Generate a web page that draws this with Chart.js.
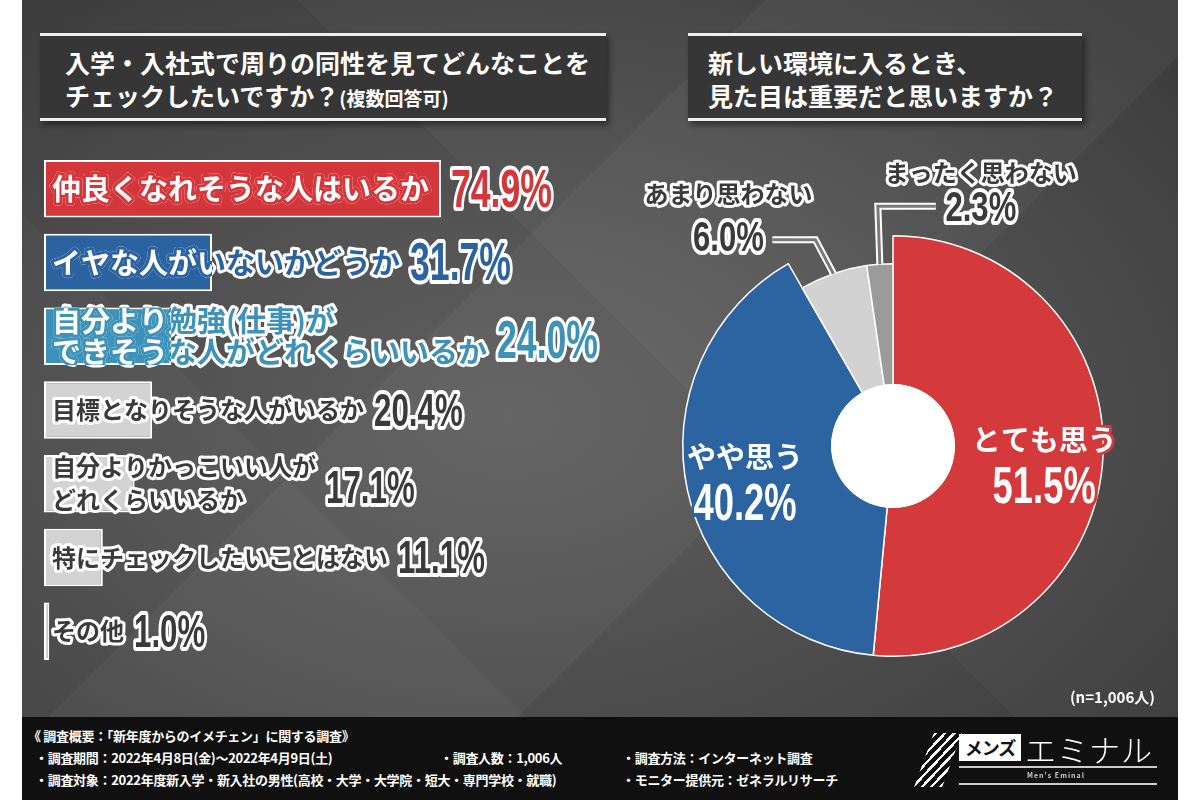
<!DOCTYPE html>
<html lang="ja">
<head>
<meta charset="utf-8">
<title>新年度からのイメチェンに関する調査</title>
<script src="https://cdn.jsdelivr.net/npm/chart.js@4.4.1/dist/chart.umd.min.js"></script>
<style>
  html, body { margin: 0; padding: 0; background: #fff; }
  body { width: 1200px; height: 800px; position: relative; overflow: hidden; font-family: "Noto Sans CJK JP", "Noto Sans", sans-serif; }
  #panel {
    position: absolute; left: 22px; top: 0; width: 1156px; height: 800px; overflow: hidden;
    background:
      linear-gradient(135deg, transparent 0 38%, rgba(255,255,255,0.035) 38% 62%, transparent 62%),
      linear-gradient(45deg, transparent 0 30%, rgba(0,0,0,0.06) 30% 55%, transparent 55%),
      radial-gradient(ellipse 75% 70% at 42% 52%, #666 0%, #515151 55%, #3d3d3d 100%);
  }
  .title {
    position: absolute; top: 33px; height: 88px; box-sizing: border-box;
    background: #363636; border-top: 3px solid #eee; border-bottom: 3px solid #eee;
    box-shadow: 3px 4px 6px rgba(0,0,0,0.45);
    color: #fff; font-weight: 700; font-size: 25px; line-height: 33px;
    padding: 10px 0 0 25px; white-space: nowrap;
  }
  .title small { font-size: 19px; }
  #t1 { left: 40px; width: 566px; }
  #t2 { left: 688px; width: 394px; padding-left: 20px; }
  canvas { position: absolute; }
  #bars { left: 22px; top: 140px; }
  #pie { left: 620px; top: 130px; }
  #nlabel { position: absolute; right: 45px; top: 686px; color: #fff; font-size: 15px; font-weight: 700; }
  #footer { position: absolute; left: 22px; top: 717px; width: 1156px; height: 83px; background: #101010; color: #fff; font-weight: 700; font-size: 13px; }
  #footer div { position: absolute; white-space: nowrap; letter-spacing: -0.3px; }
  .logo-stripes { position: absolute; left: 902px; top: 16px; width: 28px; height: 54px;
    background: repeating-linear-gradient(-60deg, #fff 0 3px, transparent 3px 8px); transform: skewX(-20deg); }
  .logo-box { position: absolute; left: 937px; top: 17px; width: 62px; height: 27px; background: #fff; color: #111; font-size: 18px; line-height: 27px; text-align: center; font-weight: 700; letter-spacing: -1px; white-space: nowrap; }
  .logo-name { position: absolute; left: 1003px; top: 9px; font-size: 31px; font-weight: 300; color: #fff; letter-spacing: 1px; }
  .logo-line { position: absolute; left: 937px; width: 198px; height: 2px; background: #ccc; }
  .logo-sub { position: absolute; left: 1005px; top: 53px; font-size: 7px; color: #ccc; letter-spacing: 1px; }
</style>
</head>
<body>
<div id="panel"></div>
<div class="title" id="t1">入学・入社式で周りの同性を見てどんなことを<br>チェックしたいですか？<small>(複数回答可)</small></div>
<div class="title" id="t2">新しい環境に入るとき、<br>見た目は重要だと思いますか？</div>
<canvas id="bars" width="640" height="545"></canvas>
<canvas id="pie" width="560" height="570"></canvas>
<div id="nlabel"></div>
<div id="footer">
  <div style="left:6px; top:9px;">《 調査概要：「新年度からのイメチェン」に関する調査》</div>
  <div style="left:13px; top:31px;">・調査期間：2022年4月8日(金)～2022年4月9日(土)</div>
  <div style="left:418px; top:31px;">・調査人数：1,006人</div>
  <div style="left:600px; top:31px;">・調査方法：インターネット調査</div>
  <div style="left:13px; top:53px;">・調査対象：2022年度新入学・新入社の男性(高校・大学・大学院・短大・専門学校・就職)</div>
  <div style="left:600px; top:53px;">・モニター提供元：ゼネラルリサーチ</div>
  <span class="logo-stripes"></span>
  <span class="logo-box">メンズ</span>
  <span class="logo-name">エミナル</span>
  <span class="logo-line" style="top:49px;"></span>
  <span class="logo-line" style="top:66px;"></span>
  <span class="logo-sub">Men's Eminal</span>
</div>

<script>
// Q1: checked points (multiple answers)
const categories = [
  '仲良くなれそうな人はいるか',
  'イヤな人がいないかどうか',
  ['自分より勉強(仕事)が', 'できそうな人がどれくらいいるか'],
  '目標となりそうな人がいるか',
  ['自分よりかっこいい人が', 'どれくらいいるか'],
  '特にチェックしたいことはない',
  'その他'
];
const checkValues = [74.9, 31.7, 24.0, 20.4, 17.1, 11.1, 1.0];

// Q2: is appearance important
const pieLabels = ['とても思う', 'やや思う', 'あまり思わない', 'まったく思わない'];
const pieValues = [51.5, 40.2, 6.0, 2.3];

const sampleSize = '(n=1,006人)';

const barColors = ['#d4373b', '#2b63a1', '#3d92b9', '#d3d3d3', '#d3d3d3', '#d3d3d3', '#d3d3d3'];
const barTextColors = ['#d4373b', '#2b63a1', '#3d92b9', '#3a3a3a', '#3a3a3a', '#3a3a3a', '#3a3a3a'];
const pieColors = ['#d4393b', '#2b64a1', '#d2d2d2', '#9b9b9b'];

const JP = '"Noto Sans CJK JP", "Noto Sans", sans-serif';
const NUM = '"Liberation Sans Narrow", "Liberation Sans", "DejaVu Sans Condensed", sans-serif';

document.getElementById('nlabel').textContent = sampleSize;

function outlined(ctx, text, x, y, fill, stroke, lw) {
  ctx.lineJoin = 'round';
  ctx.lineWidth = lw;
  ctx.strokeStyle = stroke;
  ctx.strokeText(text, x, y);
  ctx.fillStyle = fill;
  ctx.fillText(text, x, y);
}

// squeezed numbers, the original uses a condensed face
function condensed(ctx, text, x, y, sx, fill, stroke, lw, align) {
  ctx.save();
  ctx.translate(x, y);
  ctx.scale(sx, 1);
  ctx.textAlign = align || 'left';
  outlined(ctx, text, 0, 0, fill, stroke, lw);
  ctx.restore();
}

const pct = v => v.toFixed(1) + '%';

const barLabels = {
  id: 'barLabels',
  afterDatasetsDraw(chart) {
    const ctx = chart.ctx;
    const meta = chart.getDatasetMeta(0);
    meta.data.forEach((bar, i) => {
      const lines = [].concat(categories[i]);
      const big = i < 3;
      const size = big ? 29 : 24;
      const lh = big ? 31 : 33;
      const x0 = bar.base + 8;
      const y0 = bar.y - (lines.length - 1) * lh / 2;
      ctx.save();
      ctx.font = `700 ${size}px ${JP}`;
      ctx.textBaseline = 'middle';
      let maxW = 0;
      lines.forEach((l, k) => {
        maxW = Math.max(maxW, ctx.measureText(l).width);
        outlined(ctx, l, x0, y0 + k * lh, barTextColors[i], '#fff', 6);
      });
      if (big) {
        ctx.save();
        ctx.beginPath();
        ctx.rect(bar.base, bar.y - bar.height / 2, bar.x - bar.base, bar.height);
        ctx.clip();
        lines.forEach((l, k) => outlined(ctx, l, x0, y0 + k * lh, '#fff', barTextColors[i], 6));
        ctx.restore();
      }
      // value
      const vx = Math.max(bar.x, x0 + maxW) + 10;
      const vsize = big ? 54 : 46;
      ctx.font = `700 ${vsize}px ${NUM}`;
      condensed(ctx, pct(checkValues[i]), vx, bar.y + (lines.length > 1 ? 7 : 3), big ? 0.66 : 0.68, barTextColors[i], '#fff', 8);
      ctx.restore();
    });
  }
};

new Chart(document.getElementById('bars'), {
  type: 'bar',
  data: {
    labels: categories,
    datasets: [{
      data: checkValues,
      backgroundColor: barColors,
      borderColor: '#fff',
      borderWidth: 2,
      borderSkipped: false,
      barPercentage: 0.78,
      categoryPercentage: 1
    }]
  },
  options: {
    indexAxis: 'y',
    responsive: false,
    animation: false,
    events: [],
    layout: { padding: { left: 22, right: 88, top: 12, bottom: 17 } },
    scales: {
      x: { display: false, min: 0, max: 100 },
      y: { display: false }
    },
    plugins: { legend: { display: false }, tooltip: { enabled: false } }
  },
  plugins: [barLabels]
});

const pieDeco = {
  id: 'pieDeco',
  beforeDatasetsDraw(chart, args, opts) {
    const meta = chart.getDatasetMeta(0);
    const full = meta.controller.outerRadius;
    meta.data.forEach((arc, i) => { arc.outerRadius = full * opts.radiusRatio[i]; });
  },
  afterDatasetsDraw(chart, args, opts) {
    const ctx = chart.ctx;
    const meta = chart.getDatasetMeta(0);
    const full = meta.controller.outerRadius;
    const c = meta.data[0];
    ctx.save();
    // white hole
    ctx.fillStyle = '#fff';
    ctx.beginPath();
    ctx.arc(c.x, c.y, c.innerRadius + 1, 0, Math.PI * 2);
    ctx.fill();
    ctx.textBaseline = 'middle';
    meta.data.forEach((arc, i) => {
      const mid = (arc.startAngle + arc.endAngle) / 2;
      const co = opts.callouts[i];
      if (!co) {
        const r = full * 0.72;
        const lx = arc.x + Math.cos(mid) * r;
        const ly = arc.y + Math.sin(mid) * r + opts.insideDy[i];
        ctx.font = `700 29px ${JP}`;
        ctx.textAlign = 'center';
        outlined(ctx, pieLabels[i], lx, ly - 25, '#fff', pieColors[i], 6);
        ctx.font = `700 52px ${NUM}`;
        condensed(ctx, pct(pieValues[i]), lx, ly + 24, 0.7, '#fff', pieColors[i], 8, 'center');
        return;
      }
      const p0 = [arc.x + Math.cos(mid) * arc.outerRadius, arc.y + Math.sin(mid) * arc.outerRadius];
      const p1 = [p0[0] + co.bend[0], p0[1] + co.bend[1]];
      const p2 = [p1[0] + co.run, p1[1]];
      [['#fff', 7], ['#7a7a7a', 3]].forEach(([col, w]) => {
        ctx.strokeStyle = col;
        ctx.lineWidth = w;
        ctx.lineJoin = 'miter';
        ctx.beginPath();
        ctx.moveTo(p0[0], p0[1]);
        ctx.lineTo(p1[0], p1[1]);
        ctx.lineTo(p2[0], p2[1]);
        ctx.stroke();
      });
      const lx = p2[0] + co.dx;
      ctx.font = `700 24px ${JP}`;
      ctx.textAlign = 'center';
      outlined(ctx, pieLabels[i], lx, p2[1] + co.nameDy, '#3a3a3a', '#fff', 6);
      ctx.font = `700 42px ${NUM}`;
      condensed(ctx, pct(pieValues[i]), lx, p2[1] + co.pctDy, 0.74, '#3a3a3a', '#fff', 8, 'center');
    });
    ctx.restore();
  }
};

new Chart(document.getElementById('pie'), {
  type: 'doughnut',
  data: {
    labels: pieLabels,
    datasets: [{
      data: pieValues,
      backgroundColor: pieColors,
      borderColor: '#fff',
      borderWidth: 1.5
    }]
  },
  options: {
    responsive: false,
    animation: false,
    events: [],
    cutout: '29%',
    rotation: 0,
    layout: { padding: { left: 62, top: 105, right: 76, bottom: 43 } },
    plugins: {
      legend: { display: false },
      tooltip: { enabled: false },
      pieDeco: {
        radiusRatio: [1, 1, 0.867, 0.867],
        insideDy: [12, 4],
        callouts: [null, null,
          { bend: [-18, -34], run: -43, dx: -44, nameDy: -46, pctDy: 0 },
          { bend: [-2, -58], run: 58, dx: 45, nameDy: -33, pctDy: 3 }]
      }
    }
  },
  plugins: [pieDeco]
});
</script>
</body>
</html>
